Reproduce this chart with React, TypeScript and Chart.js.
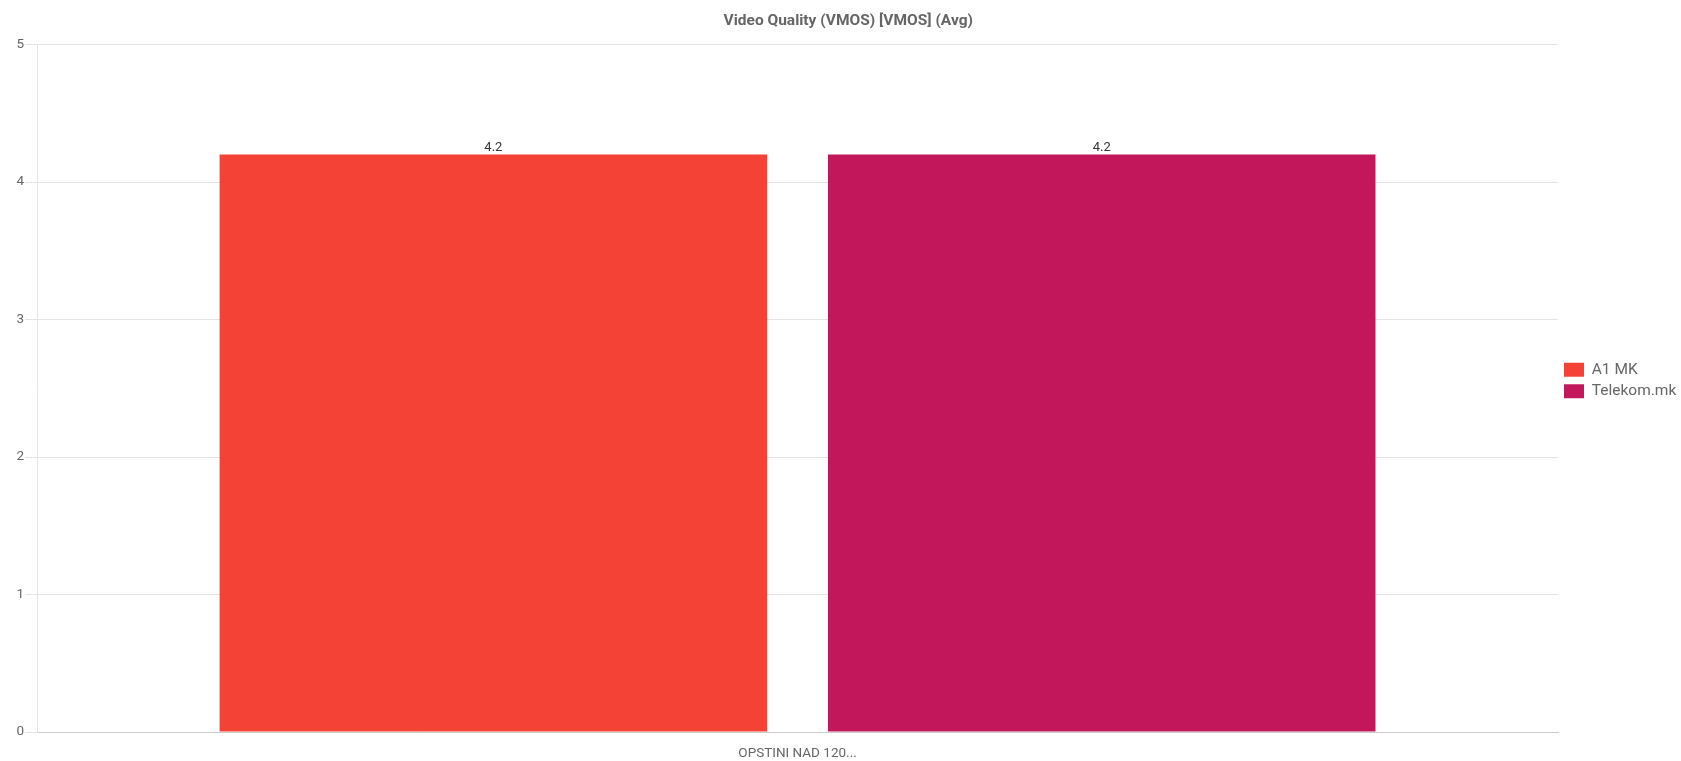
import React, { useEffect, useRef } from "react";
import { Chart, registerables } from "chart.js";

Chart.register(...registerables);

const categories = ["OPSTINI NAD 120..."];
const seriesNames = ["A1 MK", "Telekom.mk"];
const a1Values = [4.2];
const telekomValues = [4.2];
const seriesColors = ["#F44336", "#C2185B"];
const titleText = "Video Quality (VMOS) [VMOS] (Avg)";
const yMin = 0;
const yMax = 5;

const valueLabelPlugin = {
  id: "valueLabels",
  afterDatasetsDraw(chart: any) {
    const ctx = chart.ctx;
    ctx.save();
    ctx.font = "13px Roboto";
    ctx.fillStyle = "#333333";
    ctx.textAlign = "center";
    ctx.textBaseline = "alphabetic";
    chart.data.datasets.forEach((ds: any, i: number) => {
      const meta = chart.getDatasetMeta(i);
      meta.data.forEach((el: any, j: number) => {
        const v = ds.data[j];
        ctx.fillText(String(v), el.x, el.y - 4);
      });
    });
    ctx.restore();
  },
};

export default function App() {
  const ref = useRef<HTMLCanvasElement | null>(null);
  useEffect(() => {
    document.body.style.margin = "0";
    const chart = new Chart(ref.current as HTMLCanvasElement, {
      type: "bar",
      data: {
        labels: categories,
        datasets: [
          { label: seriesNames[0], data: a1Values, backgroundColor: seriesColors[0] },
          { label: seriesNames[1], data: telekomValues, backgroundColor: seriesColors[1] },
        ],
      },
      options: {
        animation: false,
        responsive: false,
        maintainAspectRatio: false,
        layout: { padding: { left: 15.5, right: 0, top: 0, bottom: 0 } },
        plugins: {
          title: {
            display: true,
            text: titleText,
            color: "#666666",
            font: { family: "Roboto", size: 15.5, weight: "bold" },
            padding: { top: 12, bottom: 14 },
          },
          legend: {
            position: "right",
            maxWidth: 123,
            labels: {
              boxWidth: 20,
              boxHeight: 14,
              color: "#666666",
              font: { family: "Roboto", size: 15.5 },
              padding: 6,
            },
          },
          tooltip: { enabled: false },
        },
        scales: {
          x: {
            afterFit: (s: any) => {
              s.height = 29;
            },
            grid: { display: false, drawTicks: false },
            border: { display: true, color: "#cccccc", width: 1 },
            ticks: {
              color: "#666666",
              font: { family: "Roboto", size: 13.5 },
              padding: 14,
            },
          },
          y: {
            min: yMin,
            max: yMax,
            ticks: {
              stepSize: 1,
              color: "#666666",
              font: { family: "Roboto", size: 13.5 },
              padding: 1,
            },
            grid: {
              color: "#e4e4e4",
              tickLength: 12,
            },
            border: { display: true, color: "#e4e4e4" },
          },
        },
      },
      plugins: [valueLabelPlugin],
    });
    return () => chart.destroy();
  }, []);
  return (
    <div style={{ width: 1681, height: 761 }}>
      <canvas ref={ref} width={1681} height={761} style={{ display: "block" }} />
    </div>
  );
}
